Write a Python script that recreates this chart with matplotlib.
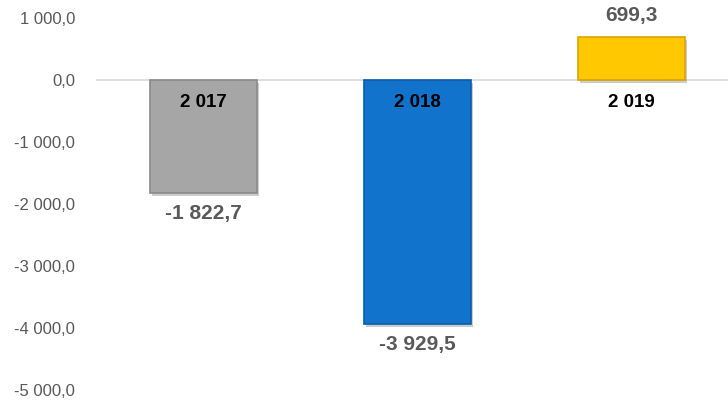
#!/usr/bin/env python

import numpy as np
import matplotlib.pyplot as plt
import matplotlib.patheffects as pe

plt.rcParams['font.family'] = ['Liberation Sans', 'DejaVu Sans']

## data
years = ["2 017", "2 018", "2 019"]
values = [-1822.7, -3929.5, 699.3]
colors = ["#A6A6A6", "#1273CC", "#FFC800"]
edges = ["#8A8A8A", "#0B5CA8", "#D9A400"]
yticks = [1000, 0, -1000, -2000, -3000, -4000, -5000]


def fmt(v):
    # 1 822,7 style
    s = "{:,.1f}".format(abs(v)).replace(",", " ").replace(".", ",")
    return ("-" if v < 0 else "") + s


fig = plt.figure(figsize=(7.28, 4.0), dpi=100)
ax = fig.add_axes([0.132, 0.025, 0.868, 0.93])

x = np.arange(len(years))
bars = ax.bar(x, values, width=0.5, color=colors, edgecolor=edges, linewidth=1.2, zorder=3)
for b in bars:
    b.set_path_effects([pe.SimplePatchShadow(offset=(1.5, -2.5), shadow_rgbFace="#000000", alpha=0.2), pe.Normal()])

ax.axhline(0, color="#D9D9D9", linewidth=1.2, zorder=1)

for xi, v, lab in zip(x, values, years):
    # category label just under zero
    ax.annotate(lab, (xi, 0), xytext=(0, -16), textcoords="offset points",
                ha="center", va="center", fontsize=13.5, fontweight="bold", color="black", zorder=5)
    off = 15 if v > 0 else -15
    ax.annotate(fmt(v), (xi, v), xytext=(0, off), textcoords="offset points",
                ha="center", va="center", fontsize=15, fontweight="bold", color="#595959", zorder=5)

ax.set_ylim(-5000, 1000)
ax.set_xlim(-0.5, 2.45)
ax.set_yticks(yticks)
ax.set_yticklabels([fmt(t) for t in yticks], fontsize=12, color="#595959")
ax.set_xticks([])
ax.tick_params(axis="y", length=0, pad=15)
for s in ax.spines.values():
    s.set_visible(False)

fig.savefig("out.png", dpi=100)
